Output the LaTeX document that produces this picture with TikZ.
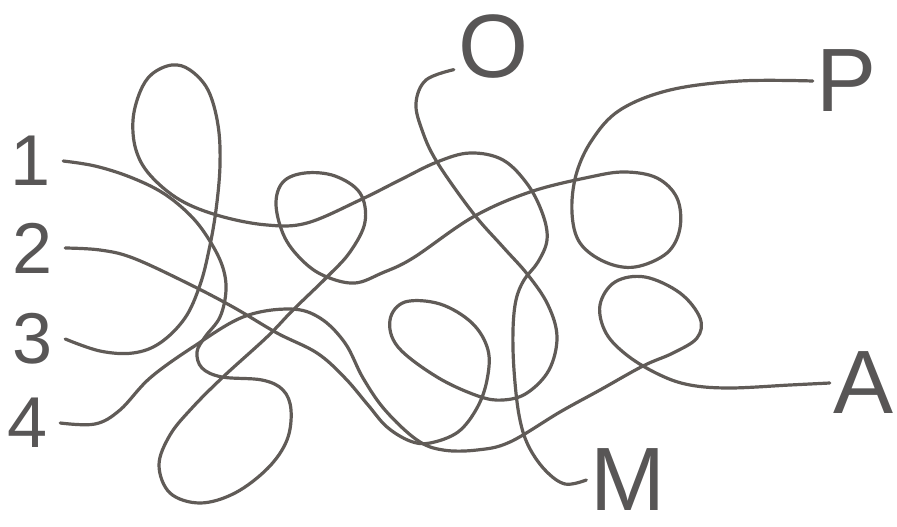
\documentclass[tikz,border=0pt]{standalone}
\usepackage{fontspec}
\setmainfont{Liberation Sans}
\usepackage{tikz}
\definecolor{ink}{RGB}{96,91,87}
\definecolor{labelgray}{RGB}{88,86,86}

\begin{document}
\begin{tikzpicture}[
    x=1pt, y=-1pt,
    wire/.style={draw=ink, line width=3.2pt, line cap=round, smooth, tension=0.6},
    label/.style={text=labelgray, inner ysep=0pt},
    num/.style={label, inner xsep=12pt, font=\fontsize{72}{80}\selectfont},
    letter/.style={label, inner xsep=4pt, font=\fontsize{90}{100}\selectfont}
]
    \useasboundingbox (0,0) rectangle (897,527);

    \node[num] (l1) at (31,161) {1};
    \node[num] (l2) at (33,248) {2};
    \node[num] (l3) at (33,339) {3};
    \node[num] (l4) at (28,423) {4};

    \node[letter] (lO) at (493,47) {O};
    \node[letter] (lP) at (847,81) {P};
    \node[letter] (lA) at (864,383) {A};
    \node[letter] (lM) at (628,480) {M};

    \draw[wire] plot coordinates {(l1.east) (95,166) (130,177) (163,193) (190,215) (208,238)
        (222,265) (226,290) (220,317) (205,337) (197,352) (202,368) (222,377) (262,380)
        (283,390) (291,410) (287,440) (268,468) (235,493) (200,503) (170,493) (159,465)
        (170,435) (192,408) (223,377) (267,337) (293,310) (327,277) (350,252) (365,222)
        (360,193) (335,176) (305,173) (283,182) (276,205) (285,238) (305,263) (327,277)
        (355,283) (382,273) (413,258) (473,217) (530,192) (590,177) (625,172) (657,178)
        (677,198) (680,228) (667,253) (635,267) (605,262) (580,243) (572,213) (576,175)
        (592,140) (620,110) (670,90) (740,81) (lP.west)};

    \draw[wire] plot coordinates {(l2.east) (100,250) (133,258) (187,283) (233,307) (277,333)
        (317,353) (345,378) (368,405) (387,427) (410,441) (430,443) (458,432) (477,408)
        (487,380) (488,350) (472,323) (440,304) (405,302) (390,320) (398,347) (437,377)
        (478,396) (503,400) (527,393) (549,370) (557,337) (548,305) (528,275) (503,247)
        (473,213) (437,162) (422,130) (416,103) (426,80) (lO.210)};

    \draw[wire] plot coordinates {(l3.east) (100,351) (133,353) (160,343) (185,318) (200,285)
        (209,250) (216,210) (220,165) (218,125) (208,90) (190,70) (172,65) (152,74)
        (140,92) (133,120) (136,150) (150,175) (180,200) (220,216) (267,225) (307,223)
        (360,200) (400,180) (437,162) (470,153) (503,160) (528,185) (543,215) (547,240)
        (538,262) (524,280) (516,300) (513,330) (514,370) (519,415) (528,445) (545,470)
        (565,484) (lM.west)};

    \draw[wire] plot coordinates {(l4.east) (95,424) (120,410) (150,378) (193,347) (243,317)
        (290,309) (320,318) (345,343) (363,378) (385,410) (417,440) (443,450) (477,450)
        (510,442) (560,412) (600,390) (643,366) (673,353) (697,338) (700,318) (680,293)
        (645,277) (615,282) (600,305) (606,333) (628,356) (660,375) (690,385) (730,388)
        (790,385) (lA.west)};
\end{tikzpicture}
\end{document}
